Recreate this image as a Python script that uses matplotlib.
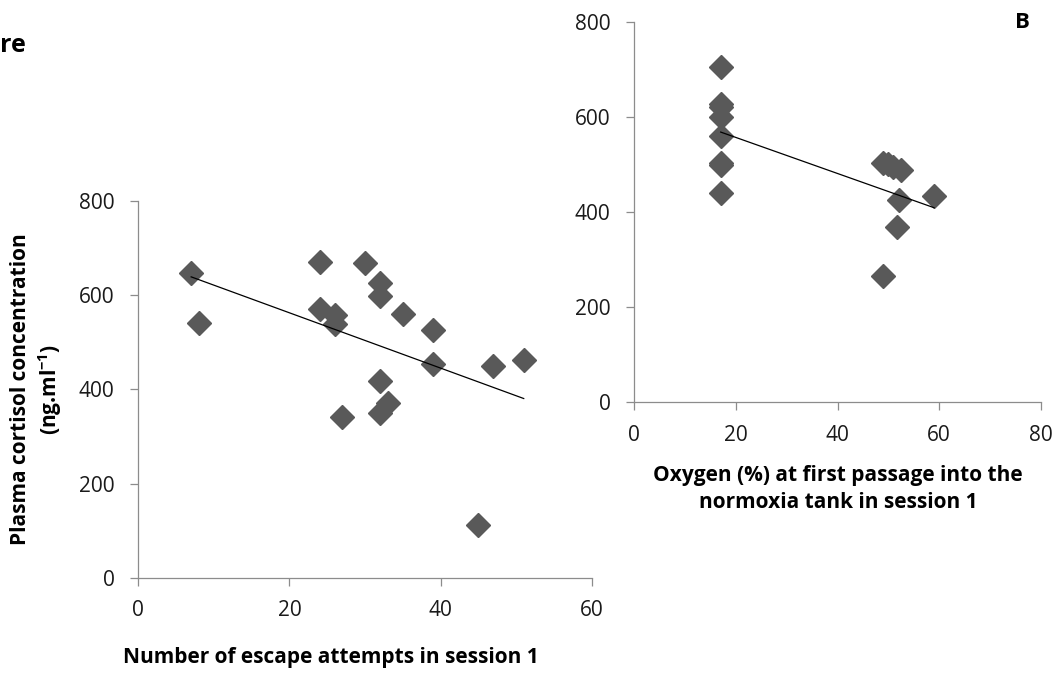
import numpy as np
import matplotlib.pyplot as plt

plt.rcParams['font.family'] = ['Open Sans', 'DejaVu Sans']
plt.rcParams['mathtext.fontset'] = 'custom'
plt.rcParams['mathtext.bf'] = 'Open Sans:bold'
plt.rcParams['mathtext.rm'] = 'Open Sans'

# panel A: escape attempts vs cortisol
escape_attempts = [7, 8, 24, 24, 26, 26, 27, 30, 32, 32, 32, 32, 33, 35, 39, 39, 45, 47, 51]
cortisol_a = [646, 541, 671, 570, 558, 539, 342, 669, 625, 597, 418, 350, 371, 560, 525, 455, 113, 450, 462]

# panel B: oxygen at first passage vs cortisol
oxygen = [17, 17, 17, 17, 17, 17, 17, 17, 49, 50, 51, 52.5, 52, 51.7, 49, 59]
cortisol_b = [706, 629, 621, 601, 561, 504, 500, 441, 504, 502, 496, 488, 426, 368, 266, 434]

MARKER_COLOR = '#595959'
SPINE_COLOR = '#8c8c8c'


def style_axis(ax, xmax, xstep):
    ax.set_xlim(0, xmax)
    ax.set_ylim(0, 800)
    ax.set_xticks(np.arange(0, xmax + 1, xstep))
    ax.set_yticks(np.arange(0, 801, 200))
    for side in ['top', 'right']:
        ax.spines[side].set_visible(False)
    for side in ['left', 'bottom']:
        ax.spines[side].set_color(SPINE_COLOR)
        ax.spines[side].set_linewidth(0.9)
    ax.tick_params(direction='out', length=6, width=0.9, color=SPINE_COLOR,
                   labelsize=15, labelcolor='#1a1a1a')
    ax.tick_params(axis='x', pad=10)
    ax.tick_params(axis='y', pad=11)


def scatter_with_trend(ax, x, y):
    ax.plot(x, y, 'D', ms=12, color=MARKER_COLOR, mec=MARKER_COLOR, clip_on=False, zorder=3)
    slope, intercept = np.polyfit(x, y, 1)
    xs = np.array([min(x), max(x)])
    ax.plot(xs, slope * xs + intercept, color='black', lw=0.9, zorder=4)


fig = plt.figure(figsize=(10.62, 6.75), dpi=100)

ax_a = fig.add_axes([0.1302, 0.1433, 0.4270, 0.5594])
scatter_with_trend(ax_a, escape_attempts, cortisol_a)
style_axis(ax_a, 60, 20)

ax_b = fig.add_axes([0.5973, 0.4040, 0.3827, 0.5630])
scatter_with_trend(ax_b, oxygen, cortisol_b)
style_axis(ax_b, 80, 20)

fig.text(331 / 1062, 1 - 658 / 675, 'Number of escape attempts in session 1',
         ha='center', va='center', fontsize=15, fontweight='bold')
fig.text(838 / 1062, 1 - 489 / 675, 'Oxygen (%) at first passage into the\nnormoxia tank in session 1',
         ha='center', va='center', fontsize=15, fontweight='bold', linespacing=1.4)
fig.text(37 / 1062, 1 - 389 / 675, 'Plasma cortisol concentration\n(ng.ml$^{\\mathbf{-1}}$)',
         ha='center', va='center', rotation=90, fontsize=15, fontweight='bold', linespacing=1.25)
fig.text(1022 / 1062, 1 - 22 / 675, 'B', ha='center', va='center', fontsize=16, fontweight='bold')
fig.text(0, 1 - 46 / 675, 're', ha='left', va='center', fontsize=18, fontweight='bold')

fig.savefig('out.png', dpi=100)
